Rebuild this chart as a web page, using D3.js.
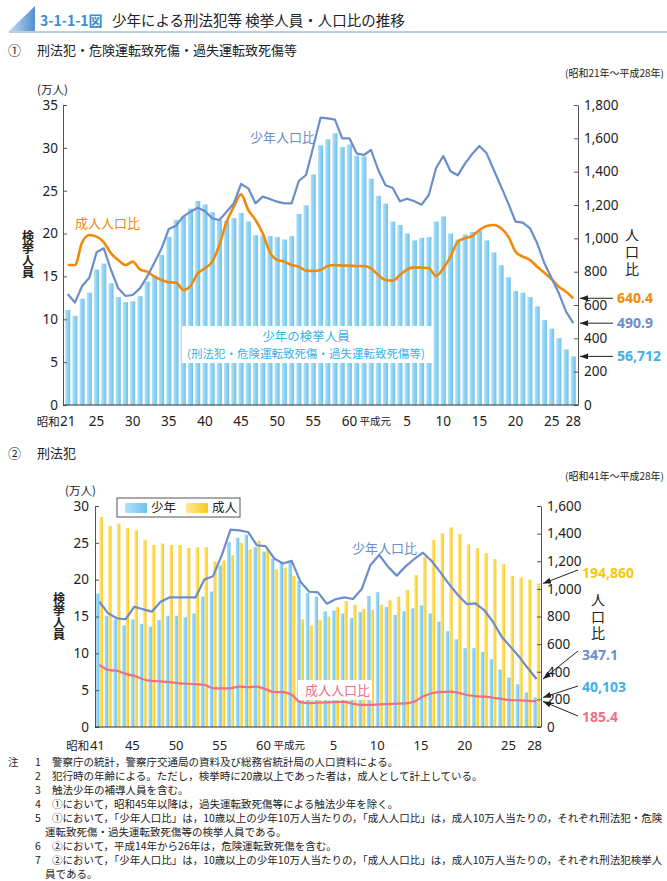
<!DOCTYPE html>
<html>
<head>
<meta charset="utf-8">
<script src="https://cdn.jsdelivr.net/npm/d3@7"></script>
<style>
  body { margin: 0; background: #fff; }
  svg { display: block; font-family: "Noto Sans CJK JP", "Noto Sans", sans-serif; }
</style>
</head>
<body>
<svg id="chart" width="667" height="881"></svg>
<script>
// ---- data: chart 1 (昭和21年〜平成28年) ----
const years1 = d3.range(1946, 2017);
// 少年の検挙人員 (万人)
const youthArrests1 = [
  11.1, 10.4, 12.4, 13.1, 15.8, 16.5, 14.2, 12.6, 12.0, 12.1,
  12.7, 14.4, 15.1, 17.5, 19.6, 21.6, 22.0, 22.9, 23.8, 23.4,
  22.5, 21.6, 21.5, 21.8, 22.4, 21.4, 19.8, 19.8, 19.7, 19.6,
  19.3, 19.7, 22.3, 23.3, 26.9, 30.3, 31.0, 31.7, 30.1, 30.4,
  29.1, 29.0, 26.4, 24.4, 23.5, 21.4, 21.0, 20.0, 19.2, 19.5,
  19.6, 21.4, 22.0, 20.0, 19.3, 19.9, 20.2, 20.3, 19.2, 17.8,
  16.3, 14.9, 13.3, 13.1, 12.6, 11.5, 9.9, 8.9, 7.8, 6.5,
  5.6712
];
// 少年人口比
const youthRate1 = [
  666, 614, 714, 764, 916, 940, 810, 700, 654, 660,
  700, 770, 854, 940, 1056, 1076, 1130, 1160, 1184, 1164,
  1120, 1110, 1160, 1210, 1326, 1300, 1210, 1250, 1236, 1220,
  1210, 1210, 1344, 1380, 1550, 1724, 1720, 1712, 1600, 1600,
  1510, 1500, 1530, 1410, 1318, 1302, 1222, 1238, 1222, 1202,
  1260, 1422, 1494, 1402, 1378, 1448, 1506, 1554, 1510, 1410,
  1310, 1210, 1100, 1094, 1060, 970, 850, 760, 670, 560,
  490.9
];
// 成人人口比
const adultRate1 = [
  840, 840, 976, 1020, 1010, 976, 910, 870, 840, 860,
  814, 800, 770, 750, 736, 734, 690, 714, 790, 820,
  860, 960, 1100, 1190, 1264, 1170, 1110, 1030, 916, 870,
  860, 840, 830, 806, 804, 810, 834, 840, 836, 836,
  834, 834, 820, 780, 750, 746, 780, 814, 826, 824,
  820, 774, 820, 890, 980, 1000, 1014, 1050, 1074, 1080,
  1060, 1010, 920, 890, 870, 830, 794, 754, 710, 680,
  640.4
];
const xTicks1 = [
  { year: 1946, label: '21', pre: '昭和' }, { year: 1950, label: '25' }, { year: 1955, label: '30' },
  { year: 1960, label: '35' }, { year: 1965, label: '40' }, { year: 1970, label: '45' },
  { year: 1975, label: '50' }, { year: 1980, label: '55' }, { year: 1985, label: '60', post: '平成元' },
  { year: 1993, label: '5' }, { year: 1998, label: '10' }, { year: 2003, label: '15' },
  { year: 2008, label: '20' }, { year: 2013, label: '25' }, { year: 2016, label: '28' }
];
const leftTicks1 = [0, 5, 10, 15, 20, 25, 30, 35];
const rightTicks1 = [0, 200, 400, 600, 800, 1000, 1200, 1400, 1600, 1800];
const endLabels1 = ['640.4', '490.9', '56,712'];

// ---- data: chart 2 (昭和41年〜平成28年) ----
const years2 = d3.range(1966, 2017);
const youthArrests2 = [
  18.1, 15.1, 14.6, 13.8, 14.6, 14.0, 13.6, 14.5, 15.1, 15.1,
  14.9, 15.4, 17.7, 18.4, 21.9, 25.1, 25.7, 26.1, 24.4, 23.8,
  22.8, 22.3, 22.5, 19.8, 18.2, 17.7, 15.7, 15.8, 15.4, 14.8,
  15.6, 17.8, 18.3, 16.3, 15.2, 15.7, 16.1, 16.5, 15.4, 14.3,
  13.0, 11.9, 10.7, 10.7, 10.2, 9.2, 7.8, 6.7, 5.8, 4.7,
  4.0103
];
const adultArrests2 = [
  28.5, 27.3, 27.6, 27.0, 26.7, 25.4, 24.7, 24.9, 24.7, 24.7,
  24.3, 24.4, 24.4, 22.5, 22.6, 23.3, 25.0, 24.1, 25.3, 24.0,
  21.4, 21.6, 20.5, 14.6, 13.8, 14.5, 15.0, 16.3, 17.1, 16.6,
  16.0, 15.9, 16.6, 17.2, 17.7, 18.6, 20.6, 23.1, 25.4, 26.3,
  27.1, 26.2, 24.8, 24.3, 23.6, 22.8, 22.1, 20.5, 20.3, 20.0,
  19.486
];
const youthRate2 = [
  907, 823, 787, 780, 871, 852, 835, 907, 938, 938,
  938, 938, 1068, 1092, 1244, 1429, 1424, 1412, 1316, 1309,
  1220, 1184, 1203, 1051, 979, 975, 893, 925, 939, 927,
  999, 1173, 1245, 1161, 1096, 1161, 1216, 1262, 1202, 1120,
  1033, 956, 890, 895, 847, 762, 654, 582, 509, 425,
  347.1
];
const adultRate2 = [
  450, 414, 407, 385, 370, 346, 334, 330, 325, 318,
  313, 310, 306, 281, 279, 281, 293, 289, 293, 274,
  253, 253, 233, 180, 173, 176, 178, 180, 182, 168,
  160, 160, 164, 166, 169, 171, 183, 220, 244, 253,
  256, 249, 232, 224, 220, 212, 203, 195, 193, 190,
  185.4
];
const xTicks2 = [
  { year: 1966, label: '41', pre: '昭和' }, { year: 1970, label: '45' }, { year: 1975, label: '50' },
  { year: 1980, label: '55' }, { year: 1985, label: '60', post: '平成元' }, { year: 1993, label: '5' },
  { year: 1998, label: '10' }, { year: 2003, label: '15' }, { year: 2008, label: '20' },
  { year: 2013, label: '25' }, { year: 2016, label: '28' }
];
const leftTicks2 = [0, 5, 10, 15, 20, 25, 30];
const rightTicks2 = [0, 200, 400, 600, 800, 1000, 1200, 1400, 1600];
const endLabels2 = ['194,860', '347.1', '40,103', '185.4'];

const notes = [
  ['注', '1', '警察庁の統計，警察庁交通局の資料及び総務省統計局の人口資料による。'],
  ['', '2', '犯行時の年齢による。ただし，検挙時に20歳以上であった者は，成人として計上している。'],
  ['', '3', '触法少年の補導人員を含む。'],
  ['', '4', '①において，昭和45年以降は，過失運転致死傷等による触法少年を除く。'],
  ['', '5', '①において，「少年人口比」は，10歳以上の少年10万人当たりの，「成人人口比」は，成人10万人当たりの，それぞれ刑法犯・危険'],
  ['', '', '運転致死傷・過失運転致死傷等の検挙人員である。'],
  ['', '6', '②において，平成14年から26年は，危険運転致死傷を含む。'],
  ['', '7', '②において，「少年人口比」は，10歳以上の少年10万人当たりの，「成人人口比」は，成人10万人当たりの，それぞれ刑法犯検挙人'],
  ['', '', '員である。']
];

// colours
const cYouthLine = '#6b8dcb';
const cAdultLine1 = '#f08a0c';
const cAdultLine2 = '#ee6f89';
const cBarText = '#3db1e6';
const cYellowText = '#f2c90f';

const svg = d3.select('#chart');
const defs = svg.append('defs');

function hGrad(id, c1, c2) {
  const g = defs.append('linearGradient').attr('id', id)
    .attr('x1', 0).attr('y1', 0).attr('x2', 1).attr('y2', 0);
  g.append('stop').attr('offset', 0).attr('stop-color', c1);
  g.append('stop').attr('offset', 1).attr('stop-color', c2);
}
hGrad('gBlue', '#b3e2f8', '#6cc2ee');
hGrad('gYel', '#ffeb96', '#f8c91c');
hGrad('gTri', '#c9dcef', '#4f8fcf');

defs.append('marker').attr('id', 'arrow')
  .attr('viewBox', '0 0 8 6').attr('refX', 8).attr('refY', 3)
  .attr('markerWidth', 8).attr('markerHeight', 6)
  .attr('markerUnits', 'userSpaceOnUse').attr('orient', 'auto')
  .append('path').attr('d', 'M0,0 L8,3 L0,6 Z').attr('fill', '#222');

svg.append('rect').attr('width', 667).attr('height', 881).attr('fill', '#fff');

// ---- header ----
svg.append('path').attr('d', 'M9,31 L35,6 L35,31 Z').attr('fill', 'url(#gTri)');
svg.append('line').attr('x1', 9).attr('x2', 667).attr('y1', 32).attr('y2', 32)
  .attr('stroke', '#a7bcd3').attr('stroke-width', 1.5);
svg.append('text').attr('x', 40).attr('y', 26).attr('font-size', 14).attr('font-weight', 'bold')
  .attr('fill', '#3c8dd2').text('3-1-1-1図');
svg.append('text').attr('x', 112).attr('y', 26).attr('font-size', 14.5).attr('fill', '#222')
  .text('少年による刑法犯等 検挙人員・人口比の推移');

function subtitle(y, num, txt, range) {
  svg.append('text').attr('x', 8).attr('y', y).attr('font-size', 13).attr('fill', '#222').text(num);
  svg.append('text').attr('x', 37).attr('y', y).attr('font-size', 13).attr('fill', '#222').text(txt);
  svg.append('text').attr('x', 664).attr('y', y + 22).attr('text-anchor', 'end')
    .attr('font-size', 10).attr('fill', '#222').text(range);
}
subtitle(55, '①', '刑法犯・危険運転致死傷・過失運転致死傷等', '(昭和21年～平成28年)');
subtitle(458, '②', '刑法犯', '(昭和41年～平成28年)');

// vertical axis titles, one text element each
function vText(x, yTop, txt, size, spacing, weight) {
  svg.append('text').attr('x', x).attr('y', yTop)
    .style('writing-mode', 'vertical-rl')
    .attr('font-size', size).attr('letter-spacing', spacing)
    .attr('font-weight', weight).attr('fill', '#222').text(txt);
}

function styleAxis(g) {
  g.select('.domain').attr('stroke', '#555');
  g.selectAll('.tick line').attr('stroke', '#555');
  g.selectAll('.tick text').attr('font-size', 13.5).attr('fill', '#222')
    .attr('font-family', '"Noto Sans", "Noto Sans CJK JP", sans-serif');
}

function xLabels(x, ticks, y, off, size) {
  const c = d => x(d) + x.bandwidth() / 2;
  ticks.forEach(t => {
    const cx = c(t.year) + off;
    svg.append('text').attr('x', cx).attr('y', y).attr('text-anchor', 'middle')
      .attr('font-size', size).attr('fill', '#222')
      .attr('font-family', '"Noto Sans", "Noto Sans CJK JP", sans-serif').text(t.label);
    if (t.pre) {
      svg.append('text').attr('x', cx - 8).attr('y', y).attr('text-anchor', 'end')
        .attr('font-size', 11.5).attr('fill', '#222').text(t.pre);
    }
    if (t.post) {
      svg.append('text').attr('x', cx + 10).attr('y', y - 1).attr('font-size', 10.5)
        .attr('fill', '#222').text(t.post);
    }
  });
}

// ================= chart 1 =================
{
  const left = 63, right = 578, top = 105, bottom = 405;
  const x = d3.scaleBand().domain(years1).range([left, right]).padding(0.3);
  const yL = d3.scaleLinear().domain([0, 35]).range([bottom, top]);
  const yR = d3.scaleLinear().domain([0, 1800]).range([bottom, top]);
  const cx = yr => x(yr) + x.bandwidth() / 2;

  svg.append('g').selectAll('rect').data(youthArrests1).join('rect')
    .attr('x', (d, i) => x(years1[i]))
    .attr('width', x.bandwidth())
    .attr('y', d => yL(d))
    .attr('height', d => bottom - yL(d))
    .attr('fill', 'url(#gBlue)');

  // label box over bars
  svg.append('rect').attr('x', 182).attr('y', 326).attr('width', 250).attr('height', 37).attr('fill', '#fff');
  svg.append('text').attr('x', 306).attr('y', 340.5).attr('text-anchor', 'middle')
    .attr('font-size', 12.5).attr('fill', cBarText).text('少年の検挙人員');
  svg.append('text').attr('x', 306).attr('y', 358).attr('text-anchor', 'middle')
    .attr('font-size', 11.5).attr('fill', cBarText).text('(刑法犯・危険運転致死傷・過失運転致死傷等)');

  const smooth = d3.line().x((d, i) => cx(years1[i])).y(d => yR(d)).curve(d3.curveMonotoneX);
  const straight = d3.line().x((d, i) => cx(years1[i])).y(d => yR(d));
  svg.append('path').datum(adultRate1).attr('d', smooth).attr('fill', 'none')
    .attr('stroke', cAdultLine1).attr('stroke-width', 2.6).attr('stroke-linejoin', 'round');
  svg.append('path').datum(youthRate1).attr('d', straight).attr('fill', 'none')
    .attr('stroke', cYouthLine).attr('stroke-width', 2.2).attr('stroke-linejoin', 'round');

  svg.append('text').attr('x', 250).attr('y', 142).attr('font-size', 13).attr('fill', cYouthLine).text('少年人口比');
  svg.append('text').attr('x', 75).attr('y', 228).attr('font-size', 13).attr('fill', cAdultLine1).text('成人人口比');

  const gl = svg.append('g').attr('transform', `translate(${left},0)`)
    .call(d3.axisLeft(yL).tickValues(leftTicks1).tickSizeInner(-4).tickSizeOuter(0).tickPadding(5));
  styleAxis(gl);
  const gr = svg.append('g').attr('transform', `translate(${right},0)`)
    .call(d3.axisRight(yR).tickValues(rightTicks1).tickSizeInner(-4).tickSizeOuter(0).tickPadding(6)
      .tickFormat(d3.format(',')));
  styleAxis(gr);
  svg.append('line').attr('x1', left).attr('x2', right).attr('y1', bottom).attr('y2', bottom)
    .attr('stroke', '#333').attr('stroke-width', 1.2);

  xLabels(x, xTicks1, 426, 0, 13.5);

  svg.append('text').attr('x', 37).attr('y', 94).attr('font-size', 11.5).attr('fill', '#222').text('(万人)');
  vText(28, 230, '検挙人員', 12, 0, 'bold');
  vText(632, 228, '人口比', 14, 3, 'normal');

  // end labels with arrows
  const last = years1.length - 1;
  const ends = [
    { y: yR(adultRate1[last]), txt: endLabels1[0], col: cAdultLine1 },
    { y: yR(youthRate1[last]), txt: endLabels1[1], col: cYouthLine },
    { y: yL(youthArrests1[last]), txt: endLabels1[2], col: cBarText }
  ];
  ends.forEach(e => {
    svg.append('line').attr('x1', 613).attr('x2', 580).attr('y1', e.y).attr('y2', e.y)
      .attr('stroke', '#222').attr('stroke-width', 1).attr('marker-end', 'url(#arrow)');
    svg.append('text').attr('x', 617).attr('y', e.y + 5).attr('font-size', 14).attr('font-weight', 'bold')
      .attr('font-family', '"Noto Sans", sans-serif').attr('fill', e.col).text(e.txt);
  });
}

// ================= chart 2 =================
{
  const left = 95, right = 541, top = 506, bottom = 727;
  const x = d3.scaleBand().domain(years2).range([left, right]).paddingInner(0.2).paddingOuter(0.1);
  const sub = d3.scaleBand().domain(['youth', 'adult']).range([0, x.bandwidth()]);
  const yL = d3.scaleLinear().domain([0, 30]).range([bottom, top]);
  const yR = d3.scaleLinear().domain([0, 1600]).range([bottom, top]);
  const cx = yr => x(yr) + x.bandwidth() / 2;

  const pairs = years2.map((yr, i) => ({ yr, youth: youthArrests2[i], adult: adultArrests2[i] }));
  svg.append('g').selectAll('rect.a').data(pairs).join('rect')
    .attr('x', d => x(d.yr) + sub('adult')).attr('width', sub.bandwidth())
    .attr('y', d => yL(d.adult)).attr('height', d => bottom - yL(d.adult))
    .attr('fill', 'url(#gYel)');
  svg.append('g').selectAll('rect.y').data(pairs).join('rect')
    .attr('x', d => x(d.yr) + sub('youth')).attr('width', sub.bandwidth())
    .attr('y', d => yL(d.youth)).attr('height', d => bottom - yL(d.youth))
    .attr('fill', 'url(#gBlue)');

  svg.append('rect').attr('x', 298).attr('y', 680).attr('width', 74).attr('height', 20).attr('fill', '#fff');

  const smooth = d3.line().x((d, i) => cx(years2[i])).y(d => yR(d)).curve(d3.curveMonotoneX);
  const straight = d3.line().x((d, i) => cx(years2[i])).y(d => yR(d));
  svg.append('path').datum(youthRate2).attr('d', straight).attr('fill', 'none')
    .attr('stroke', cYouthLine).attr('stroke-width', 2.2).attr('stroke-linejoin', 'round');
  svg.append('path').datum(adultRate2).attr('d', smooth).attr('fill', 'none')
    .attr('stroke', cAdultLine2).attr('stroke-width', 2.2);

  svg.append('text').attr('x', 352).attr('y', 553).attr('font-size', 13).attr('fill', cYouthLine).text('少年人口比');
  svg.append('text').attr('x', 305).attr('y', 695).attr('font-size', 13).attr('fill', cAdultLine2).text('成人人口比');

  const gl = svg.append('g').attr('transform', `translate(${left},0)`)
    .call(d3.axisLeft(yL).tickValues(leftTicks2).tickSizeInner(-4).tickSizeOuter(0).tickPadding(6));
  styleAxis(gl);
  const gr = svg.append('g').attr('transform', `translate(${right},0)`)
    .call(d3.axisRight(yR).tickValues(rightTicks2).tickSizeInner(-4).tickSizeOuter(0).tickPadding(6)
      .tickFormat(d3.format(',')));
  styleAxis(gr);
  svg.append('line').attr('x1', left).attr('x2', right).attr('y1', bottom).attr('y2', bottom)
    .attr('stroke', '#333').attr('stroke-width', 1.2);

  xLabels(x, xTicks2, 749.5, -2, 13);

  // legend
  svg.append('rect').attr('x', 117).attr('y', 498).attr('width', 123).attr('height', 19)
    .attr('fill', '#fff').attr('stroke', '#555').attr('stroke-width', 1);
  svg.append('rect').attr('x', 125).attr('y', 503).attr('width', 22).attr('height', 10).attr('fill', 'url(#gBlue)');
  svg.append('text').attr('x', 151).attr('y', 512).attr('font-size', 12.5).attr('fill', '#222').text('少年');
  svg.append('rect').attr('x', 186).attr('y', 503).attr('width', 22).attr('height', 10).attr('fill', 'url(#gYel)');
  svg.append('text').attr('x', 212).attr('y', 512).attr('font-size', 12.5).attr('fill', '#222').text('成人');

  svg.append('text').attr('x', 65).attr('y', 495).attr('font-size', 11.5).attr('fill', '#222').text('(万人)');
  vText(59, 592, '検挙人員', 12, 0, 'bold');
  vText(598, 593, '人口比', 14, 2.5, 'normal');

  const last = years2.length - 1;
  const ends = [
    { y0: 570, y: yL(adultArrests2[last]), ty: 578, txt: endLabels2[0], col: cYellowText },
    { y0: 651, y: yR(youthRate2[last]), ty: 660, txt: endLabels2[1], col: cYouthLine },
    { y0: 686, y: yL(youthArrests2[last]), ty: 692, txt: endLabels2[2], col: cBarText },
    { y0: 716, y: yR(adultRate2[last]), ty: 722, txt: endLabels2[3], col: cAdultLine2 }
  ];
  ends.forEach(e => {
    svg.append('line').attr('x1', 578).attr('x2', 543).attr('y1', e.y0).attr('y2', e.y)
      .attr('stroke', '#222').attr('stroke-width', 1).attr('marker-end', 'url(#arrow)');
    svg.append('text').attr('x', 582).attr('y', e.ty).attr('font-size', 14).attr('font-weight', 'bold')
      .attr('font-family', '"Noto Sans", sans-serif').attr('fill', e.col).text(e.txt);
  });
}

// ---- notes ----
notes.forEach((n, i) => {
  const y = 765.5 + i * 14;
  if (n[0]) svg.append('text').attr('x', 8).attr('y', y).attr('font-size', 10.5).attr('fill', '#222').text(n[0]);
  if (n[1]) svg.append('text').attr('x', 38).attr('y', y).attr('text-anchor', 'middle')
    .attr('font-size', 10.5).attr('fill', '#222').text(n[1]);
  svg.append('text').attr('x', n[1] ? 52 : 45).attr('y', y).attr('font-size', 10.5).attr('fill', '#222').text(n[2]);
});
</script>
</body>
</html>
